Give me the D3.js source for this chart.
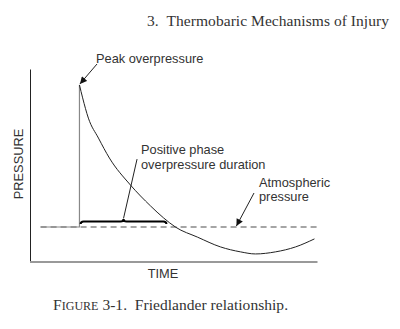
<!DOCTYPE html>
<html><head><meta charset="utf-8">
<script src="https://cdn.jsdelivr.net/npm/d3@7"></script>
<style>html,body{margin:0;padding:0;background:#fff;}svg{display:block;}</style>
</head><body>
<svg id="c" width="400" height="329"></svg>
<script>
// ---- data (time in arbitrary units 0..100, pressure with atmospheric = 1) ----
const curveTime     = [17.0, 18.1, 20.1, 23.6, 27.4, 34.7, 41.7, 46.2, 50.3, 58.0, 66.0, 72.9, 78.1, 85.1, 92.0, 98.6];
const curvePressure = [5.06, 4.69, 4.11, 3.54, 2.97, 2.20, 1.60, 1.26, 1.00, 0.71, 0.43, 0.29, 0.23, 0.29, 0.43, 0.66];
const atmospheric = 1.0;
const preShockTime = [3.5, 17.0];
const atmosLineTime = [3.5, 99.7];
const positivePhase = [17.4, 47.2];
const axisTitles = ["TIME", "PRESSURE"];
const annotations = ["Peak overpressure", "Positive phase", "overpressure duration", "Atmospheric", "pressure"];
const headerText = "3.\u2002Thermobaric Mechanisms of Injury";
const captionText = ["F", "IGURE", " 3-1.\u2002Friedlander relationship."];

const svg = d3.select("#c");
const x = d3.scaleLinear().domain([0, 100]).range([30.5, 318.5]);
const y = d3.scaleLinear().domain([0, 5.5]).range([262, 69.5]);

const defs = svg.append("defs");
defs.append("marker").attr("id","ah").attr("viewBox","0 0 10 10").attr("refX",10).attr("refY",5)
  .attr("markerWidth",8).attr("markerHeight",7).attr("markerUnits","userSpaceOnUse").attr("orient","auto")
  .append("path").attr("d","M0,0 L10,5 L0,10 Z").attr("fill","#111");

// header
svg.append("text").attr("x",147).attr("y",25.5)
  .attr("textLength",242).attr("lengthAdjust","spacing")
  .attr("font-family","Liberation Serif, serif").attr("font-size",15.5).attr("fill","#333").text(headerText);

// axes
svg.append("line").attr("x1",x(0)).attr("x2",x(0)).attr("y1",y(5.5)).attr("y2",y(0))
  .attr("stroke","#222").attr("stroke-width",1);
svg.append("line").attr("x1",x(0)-0.5).attr("x2",x(100)-1).attr("y1",y(0)).attr("y2",y(0))
  .attr("stroke","#999").attr("stroke-width",2);

// atmospheric dashed
svg.append("line").attr("x1",x(atmosLineTime[0])).attr("x2",x(atmosLineTime[1]))
  .attr("y1",y(atmospheric)).attr("y2",y(atmospheric))
  .attr("stroke","#888").attr("stroke-width",1.3).attr("stroke-dasharray","6,4");

// pre-shock baseline and shock front
svg.append("path").attr("d", d3.line()([[x(preShockTime[0]), y(atmospheric)],[x(preShockTime[1]), y(atmospheric)],[x(preShockTime[1]), y(curvePressure[0])]]))
  .attr("fill","none").attr("stroke","#888").attr("stroke-width",1.2);

// waveform
const pts = curveTime.map((t,i)=>[x(t), y(curvePressure[i])]);
svg.append("path").attr("d", d3.line().curve(d3.curveMonotoneX)(pts))
  .attr("fill","none").attr("stroke","#222").attr("stroke-width",1);

// brace for positive phase
const bx0 = x(positivePhase[0]), bx1 = x(positivePhase[1]), bm = (bx0+bx1)/2;
const by = y(1.16);
const brace = `M${bx0},${by+2.5} Q${bx0},${by} ${bx0+3},${by} L${bm-3},${by} Q${bm},${by} ${bm},${by-2.5} Q${bm},${by} ${bm+3},${by} L${bx1-3},${by} Q${bx1},${by} ${bx1},${by+2.5}`;
svg.append("path").attr("d",brace).attr("fill","none").attr("stroke","#000").attr("stroke-width",2);
// leader from brace
svg.append("line").attr("x1",bm).attr("y1",by-3).attr("x2",x(37)).attr("y2",y(2.94))
  .attr("stroke","#222").attr("stroke-width",1);

// labels
const lab = (t,xx,yy)=>svg.append("text").attr("x",xx).attr("y",yy)
  .attr("font-family","Liberation Sans, Arial, sans-serif").attr("font-size",12.8).attr("fill","#333").text(t);
lab(annotations[0], 96, 63);
lab(annotations[1], 141, 154);
lab(annotations[2], 141, 169);
lab(annotations[3], 259, 187);
lab(annotations[4], 259, 201);

// arrows
svg.append("line").attr("x1",97).attr("y1",64).attr("x2",x(curveTime[0])+0.5).attr("y2",y(curvePressure[0])-1)
  .attr("stroke","#222").attr("stroke-width",1).attr("marker-end","url(#ah)");
svg.append("line").attr("x1",254).attr("y1",193).attr("x2",x(71.5)).attr("y2",y(atmospheric)-1)
  .attr("stroke","#222").attr("stroke-width",1).attr("marker-end","url(#ah)");

// axis titles
svg.append("text").attr("x",163).attr("y",278).attr("text-anchor","middle")
  .attr("font-family","Liberation Sans, Arial, sans-serif").attr("font-size",12.8).attr("fill","#333").text(axisTitles[0]);
svg.append("text").attr("transform","translate(22.5,164) rotate(-90)").attr("text-anchor","middle")
  .attr("font-family","Liberation Sans, Arial, sans-serif").attr("font-size",12.8).attr("fill","#333").text(axisTitles[1]);

// caption
const cap = svg.append("text").attr("x",53).attr("y",310)
  .attr("textLength",235).attr("lengthAdjust","spacing")
  .attr("font-family","Liberation Serif, serif").attr("font-size",15.5).attr("fill","#333");
cap.append("tspan").text(captionText[0]);
cap.append("tspan").attr("font-size",12).text(captionText[1]);
cap.append("tspan").text(captionText[2]);
</script>
</body></html>
